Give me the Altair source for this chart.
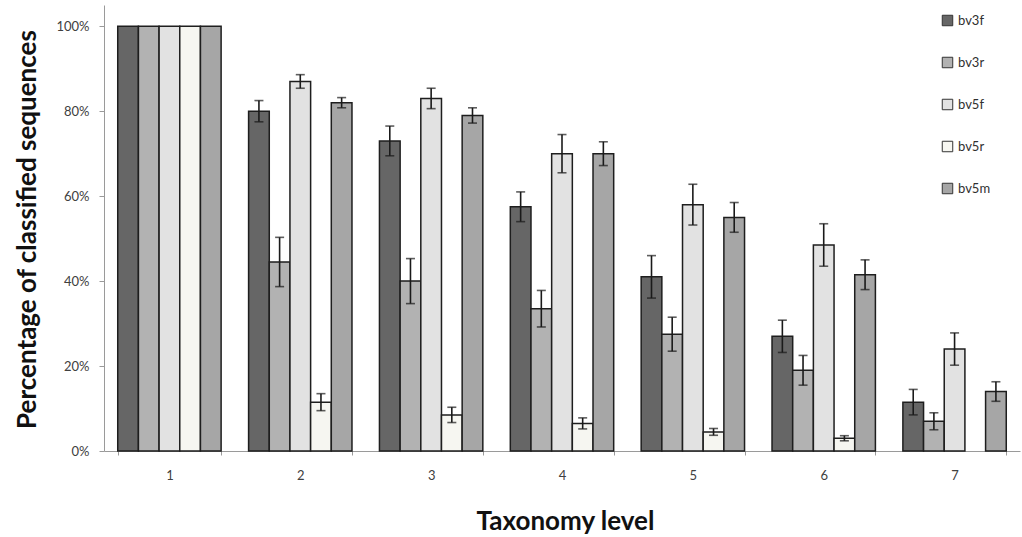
import altair as alt
import pandas as pd

levels = ["1", "2", "3", "4", "5", "6", "7"]
series = ["bv3f", "bv3r", "bv5f", "bv5r", "bv5m"]
colors = ["#666666", "#b2b2b2", "#e2e2e2", "#f6f6f1", "#a6a6a6"]

# values (%) per series, by level; None = not shown
bv3f = [100, 80, 73, 57.5, 41, 27, 11.5]
bv3r = [100, 44.5, 40, 33.5, 27.5, 19, 7]
bv5f = [100, 87, 83, 70, 58, 48.5, 24]
bv5r = [100, 11.5, 8.5, 6.5, 4.5, 3, None]
bv5m = [100, 82, 79, 70, 55, 41.5, 14]

# error half-widths (%)
err_bv3f = [0, 2.5, 3.5, 3.5, 5, 3.8, 3]
err_bv3r = [0, 5.8, 5.3, 4.3, 4, 3.5, 2]
err_bv5f = [0, 1.6, 2.4, 4.5, 4.8, 5, 3.8]
err_bv5r = [0, 2, 1.8, 1.3, 0.8, 0.6, None]
err_bv5m = [0, 1.2, 1.8, 2.8, 3.5, 3.5, 2.3]

vals = dict(bv3f=bv3f, bv3r=bv3r, bv5f=bv5f, bv5r=bv5r, bv5m=bv5m)
errs = dict(bv3f=err_bv3f, bv3r=err_bv3r, bv5f=err_bv5f, bv5r=err_bv5r, bv5m=err_bv5m)

rows = []
for s in series:
    for i, lv in enumerate(levels):
        v = vals[s][i]
        e = errs[s][i]
        if v is None:
            continue
        rows.append({"level": lv, "series": s, "value": v,
                     "lo": v - e, "hi": v + e, "has_err": e > 0})
df = pd.DataFrame(rows)

FONT = "Lato"

x_enc = alt.X("level:N", sort=levels,
              scale=alt.Scale(paddingInner=0.21, paddingOuter=0.105),
              axis=alt.Axis(title="Taxonomy level", labelAngle=0, tickBand="extent",
                            tickSize=4, labelPadding=14, labelFontSize=13,
                            labelColor="#404040", labelFont=FONT,
                            domainColor="#9a9a9a", tickColor="#9a9a9a",
                            titleFont=FONT, titleFontSize=26, titleFontWeight="bold",
                            titleColor="#111111", titleX=461, titleY=78,
                            titleBaseline="alphabetic", titleAnchor="start",
                            titleAlign="center"))
xoff = alt.XOffset("series:N", sort=series, scale=alt.Scale(domain=series, paddingInner=0, paddingOuter=0))

y_scale = alt.Scale(domain=[0, 105], nice=False)

bars = alt.Chart(df).mark_bar(stroke="#1e1e1e", strokeWidth=1.5).encode(
    x=x_enc,
    xOffset=xoff,
    y=alt.Y("value:Q", scale=y_scale,
            axis=alt.Axis(values=[0, 20, 40, 60, 80, 100], labelExpr="datum.value + '%'",
                          grid=False, tickSize=5, labelPadding=10, labelFontSize=13,
                          labelColor="#404040", labelFont=FONT,
                          domainColor="#9a9a9a", tickColor="#9a9a9a",
                          title="Percentage of classified sequences",
                          titleFont=FONT, titleFontSize=26, titleFontWeight="bold",
                          titleColor="#111111", titleAngle=270, titleBaseline="alphabetic",
                          titleAlign="center", titleAnchor="start",
                          titleX=-69, titleY=224)),
    color=alt.Color("series:N", sort=series,
                    scale=alt.Scale(domain=series, range=colors),
                    legend=alt.Legend(title=None, orient="none", legendX=837, legendY=9,
                                      symbolType="square", symbolSize=110,
                                      symbolStrokeColor="#333333", symbolStrokeWidth=1,
                                      symbolOpacity=1,
                                      labelFont=FONT, labelFontSize=13, labelColor="#303030",
                                      rowPadding=27, labelOffset=4)),
)

err_df = df[df["has_err"]]
rules = alt.Chart(err_df).mark_rule(color="#1a1a1a", strokeWidth=1.6).encode(
    x=alt.X("level:N", sort=levels), xOffset=xoff,
    y=alt.Y("lo:Q", scale=y_scale), y2="hi:Q")
caps_lo = alt.Chart(err_df).mark_tick(color="#1a1a1a", thickness=1.6, size=9).encode(
    x=alt.X("level:N", sort=levels), xOffset=xoff, y=alt.Y("lo:Q", scale=y_scale))
caps_hi = alt.Chart(err_df).mark_tick(color="#1a1a1a", thickness=1.6, size=9).encode(
    x=alt.X("level:N", sort=levels), xOffset=xoff, y=alt.Y("hi:Q", scale=y_scale))

chart = alt.layer(bars, rules, caps_lo, caps_hi).properties(
    width=916, height=446,
    background="white",
    autosize=alt.AutoSizeParams(type="none"),
    padding={"left": 104, "top": 5, "right": 2, "bottom": 86},
).configure_view(stroke=None)

chart.save("out.html", embed_options={"renderer": "svg", "actions": False})
